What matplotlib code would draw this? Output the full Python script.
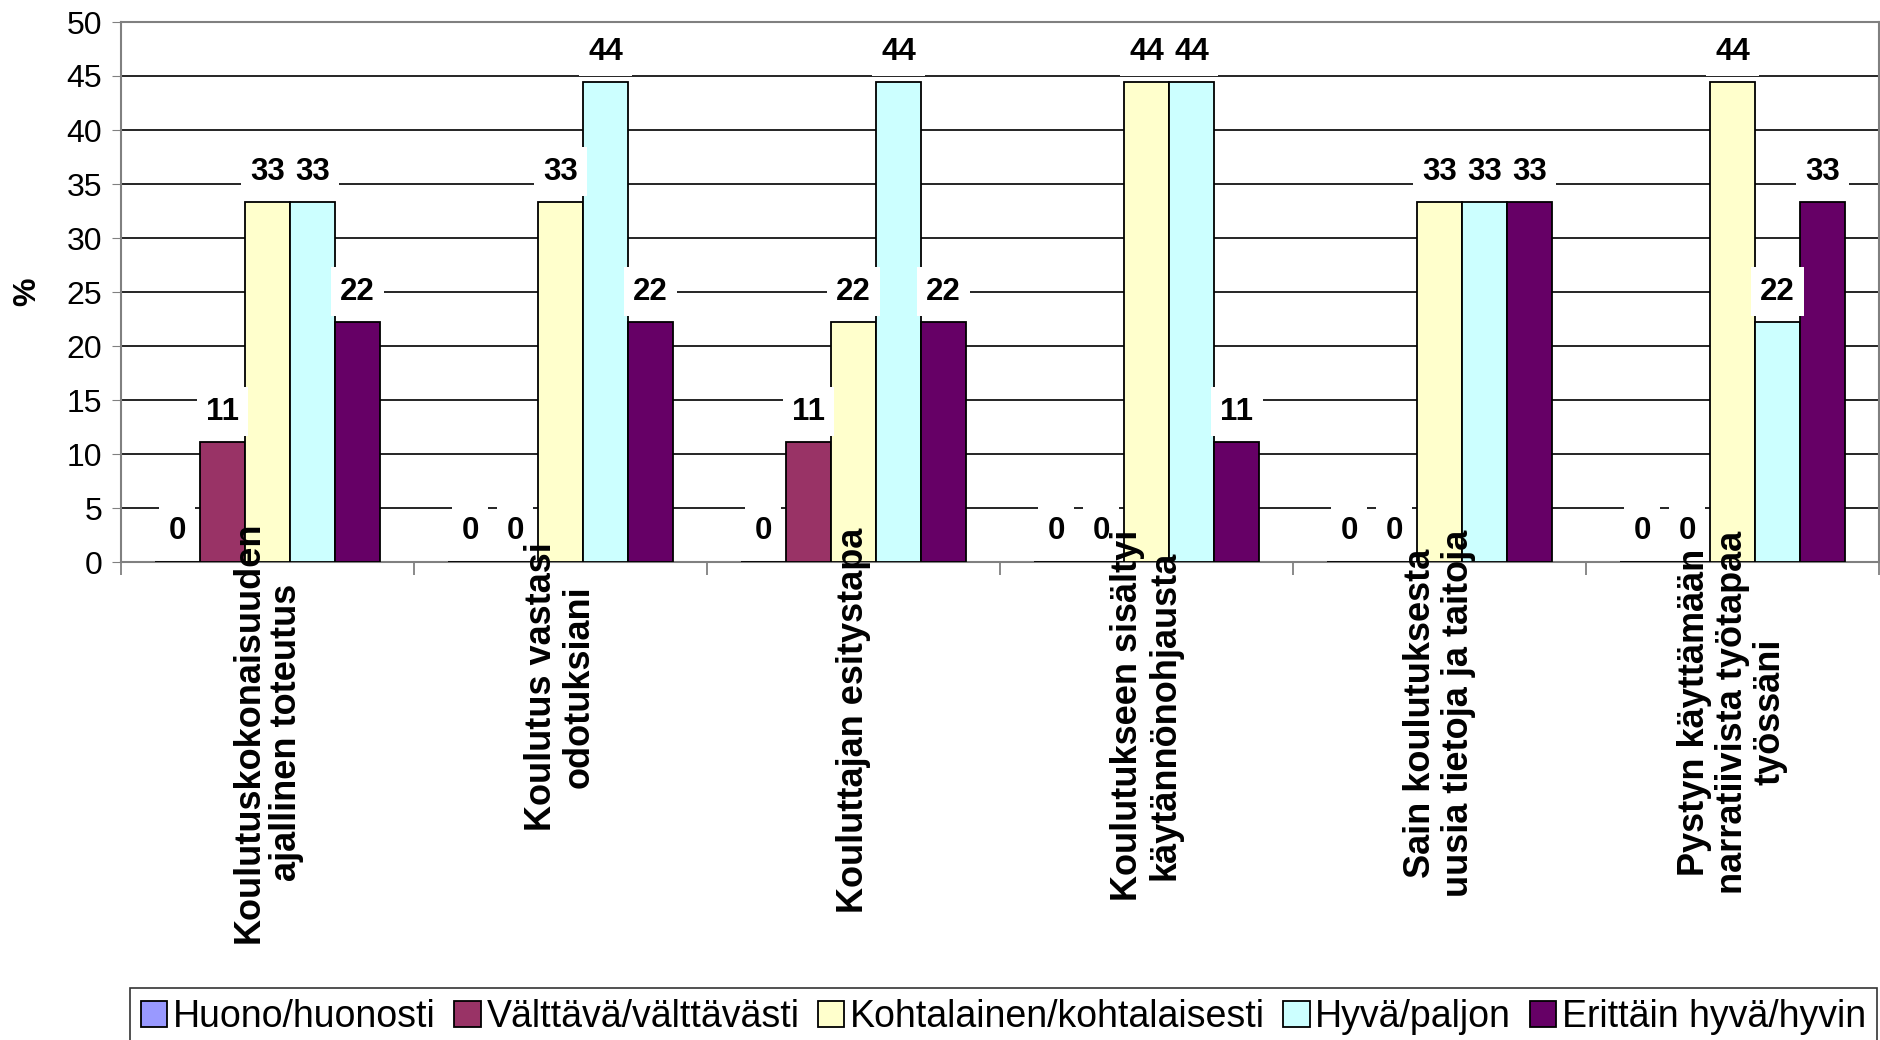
import matplotlib
matplotlib.use("Agg")
import matplotlib.pyplot as plt
import matplotlib.transforms as mtransforms
import numpy as np

plt.rcParams["font.family"] = ["Liberation Sans", "DejaVu Sans"]

# ---------------------------------------------------------------
# Data
# ---------------------------------------------------------------
categories = [
    "Koulutuskokonaisuuden\najallinen toteutus",
    "Koulutus vastasi\nodotuksiani",
    "Kouluttajan esitystapa",
    "Koulutukseen sisältyi\nkäytännönohjausta",
    "Sain koulutuksesta\nuusia tietoja ja taitoja",
    "Pystyn käyttämään\nnarratiivista työtapaa\ntyössäni",
]
series_names = [
    "Huono/huonosti",
    "Välttävä/välttävästi",
    "Kohtalainen/kohtalaisesti",
    "Hyvä/paljon",
    "Erittäin hyvä/hyvin",
]
huono = [0, 0, 0, 0, 0, 0]
valttava = [11.1, 0, 11.1, 0, 0, 0]
kohtalainen = [33.3, 33.3, 22.2, 44.4, 33.3, 44.4]
hyva = [33.3, 44.4, 44.4, 44.4, 33.3, 22.2]
erittain = [22.2, 22.2, 22.2, 11.1, 33.3, 33.3]
yticks = [0, 5, 10, 15, 20, 25, 30, 35, 40, 45, 50]

series = [huono, valttava, kohtalainen, hyva, erittain]
colors = ["#9999FF", "#993366", "#FFFFCC", "#CCFFFF", "#660066"]

W, H = 1881, 1040
fig = plt.figure(figsize=(W / 100, H / 100), dpi=100)
ax = fig.add_axes([121 / W, 1 - 562 / H, 1758 / W, 540 / H])

x = np.arange(len(categories))
width = 1 / 6.5

for i, (name, vals, col) in enumerate(zip(series_names, series, colors)):
    pos = x + (i - 2) * width
    ax.bar(pos, vals, width, color=col, edgecolor="black", linewidth=1.3,
           label=name, zorder=3)
    for px, v in zip(pos, vals):
        ax.annotate(f"{v:.0f}", (px, v), xytext=(0, 22), textcoords="offset points",
                    ha="center", va="center", fontsize=22.5, fontweight="bold",
                    zorder=5,
                    bbox=dict(boxstyle="square,pad=0.3", fc="white", ec="none"))

ax.set_xlim(-0.5, len(categories) - 0.5)
ax.set_ylim(0, 50)
ax.set_yticks(yticks)
ax.tick_params(axis="y", labelsize=23, direction="out", length=6.5,
               color="#808080", pad=7)
ax.set_xticks([])
ax.set_xticks(np.arange(-0.5, len(categories)), minor=True)
ax.tick_params(axis="x", which="minor", direction="out", length=9,
               color="#808080", width=1.3)
ax.yaxis.grid(True, color="black", linewidth=1.2, zorder=0)
ax.set_axisbelow(True)
for sp in ax.spines.values():
    sp.set_color("#808080")
    sp.set_linewidth(1.5)

ax.set_ylabel("%", fontsize=23, fontweight="bold")
ax.yaxis.set_label_coords(-(121 - 42) / 1758, 0.5)

# category labels, rotated and allowed to run into the plot area
trans = mtransforms.blended_transform_factory(ax.transData, fig.transFigure)
cat_texts = []
for xi, lab in zip(x, categories):
    t = ax.text(xi, 0.3, lab, transform=trans, rotation=90, ha="center",
                va="center", multialignment="center", fontsize=26,
                fontweight="bold", linespacing=1.1, zorder=6, clip_on=False)
    cat_texts.append(t)

leg = fig.legend(loc="upper left", ncol=5, mode="expand",
                 bbox_to_anchor=(130 / W, 0, 1747 / W, 1 - 988 / H),
                 fontsize=27, frameon=True, fancybox=False, edgecolor="black",
                 handlelength=0.7, handleheight=0.7, handletextpad=0.15,
                 columnspacing=0.4, borderaxespad=0, borderpad=0.3)
leg.get_frame().set_linewidth(1.2)

fig.canvas.draw()
for t in cat_texts:
    L = t.get_window_extent().height
    center = 587 + 0.345 * L
    t.set_y(1 - center / H)

fig.savefig("out.png", dpi=100)
